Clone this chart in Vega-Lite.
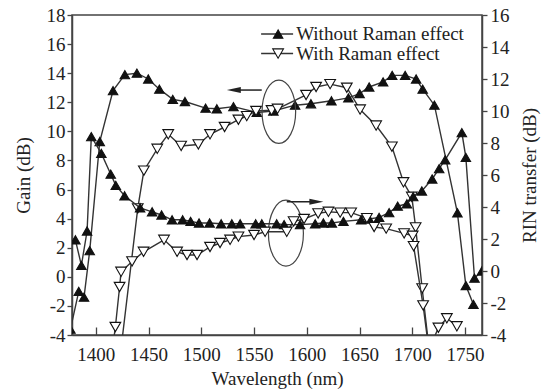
{
  "$schema": "https://vega.github.io/schema/vega-lite/v6.json",
  "width": 410,
  "height": 320,
  "autosize": {"type": "none"},
  "padding": {"left": 72, "top": 15, "right": 61, "bottom": 56},
  "background": "white",
  "config": {
    "font": "Liberation Serif",
    "view": {"stroke": "#444", "strokeWidth": 1.5},
    "axis": {
      "grid": false,
      "domainColor": "#444",
      "domainWidth": 1.5,
      "tickColor": "#444",
      "tickWidth": 1.3,
      "labelFont": "Liberation Serif",
      "labelFontSize": 19,
      "labelColor": "#222",
      "labelFlush": false,
      "labelOverlap": false,
      "titleFont": "Liberation Serif",
      "titleFontSize": 19,
      "titleFontWeight": "normal",
      "titleColor": "#222"
    }
  },
  "datasets": {
    "gain": [
      {"effect": "Without Raman effect", "wl": 1376.0, "gain": -3.6},
      {"effect": "Without Raman effect", "wl": 1383.9, "gain": -1.0},
      {"effect": "Without Raman effect", "wl": 1388.9, "gain": -1.4},
      {"effect": "Without Raman effect", "wl": 1394.3, "gain": 1.8},
      {"effect": "Without Raman effect", "wl": 1403.8, "gain": 9.3},
      {"effect": "Without Raman effect", "wl": 1416.4, "gain": 12.8},
      {"effect": "Without Raman effect", "wl": 1427.6, "gain": 13.9},
      {"effect": "Without Raman effect", "wl": 1439.0, "gain": 14.0},
      {"effect": "Without Raman effect", "wl": 1449.8, "gain": 13.6},
      {"effect": "Without Raman effect", "wl": 1460.3, "gain": 12.9},
      {"effect": "Without Raman effect", "wl": 1473.0, "gain": 12.2},
      {"effect": "Without Raman effect", "wl": 1484.5, "gain": 12.05},
      {"effect": "Without Raman effect", "wl": 1504.1, "gain": 11.6},
      {"effect": "Without Raman effect", "wl": 1514.7, "gain": 11.55},
      {"effect": "Without Raman effect", "wl": 1530.5, "gain": 11.7},
      {"effect": "Without Raman effect", "wl": 1552.6, "gain": 11.3},
      {"effect": "Without Raman effect", "wl": 1568.3, "gain": 11.4},
      {"effect": "Without Raman effect", "wl": 1588.9, "gain": 11.8},
      {"effect": "Without Raman effect", "wl": 1603.9, "gain": 11.9},
      {"effect": "Without Raman effect", "wl": 1623.3, "gain": 12.1},
      {"effect": "Without Raman effect", "wl": 1639.4, "gain": 12.3},
      {"effect": "Without Raman effect", "wl": 1650.0, "gain": 12.6},
      {"effect": "Without Raman effect", "wl": 1659.1, "gain": 13.05},
      {"effect": "Without Raman effect", "wl": 1672.3, "gain": 13.4},
      {"effect": "Without Raman effect", "wl": 1680.9, "gain": 13.85},
      {"effect": "Without Raman effect", "wl": 1693.2, "gain": 13.85},
      {"effect": "Without Raman effect", "wl": 1703.6, "gain": 13.6},
      {"effect": "Without Raman effect", "wl": 1709.8, "gain": 12.9},
      {"effect": "Without Raman effect", "wl": 1720.9, "gain": 11.8},
      {"effect": "Without Raman effect", "wl": 1742.7, "gain": 4.4},
      {"effect": "Without Raman effect", "wl": 1750.7, "gain": -0.6},
      {"effect": "Without Raman effect", "wl": 1757.9, "gain": -1.9},
      {"effect": "With Raman effect", "wl": 1424.5, "gain": -4.6},
      {"effect": "With Raman effect", "wl": 1439.8, "gain": 4.7},
      {"effect": "With Raman effect", "wl": 1445.6, "gain": 7.3},
      {"effect": "With Raman effect", "wl": 1458.3, "gain": 8.8},
      {"effect": "With Raman effect", "wl": 1468.7, "gain": 9.8},
      {"effect": "With Raman effect", "wl": 1480.9, "gain": 9.0},
      {"effect": "With Raman effect", "wl": 1497.2, "gain": 9.1},
      {"effect": "With Raman effect", "wl": 1508.3, "gain": 9.8},
      {"effect": "With Raman effect", "wl": 1522.1, "gain": 10.3},
      {"effect": "With Raman effect", "wl": 1535.2, "gain": 10.8},
      {"effect": "With Raman effect", "wl": 1543.1, "gain": 11.05},
      {"effect": "With Raman effect", "wl": 1551.9, "gain": 11.4},
      {"effect": "With Raman effect", "wl": 1566.6, "gain": 11.45},
      {"effect": "With Raman effect", "wl": 1572.3, "gain": 11.55},
      {"effect": "With Raman effect", "wl": 1599.3, "gain": 12.5},
      {"effect": "With Raman effect", "wl": 1608.8, "gain": 13.05},
      {"effect": "With Raman effect", "wl": 1622.1, "gain": 13.25},
      {"effect": "With Raman effect", "wl": 1637.9, "gain": 13.0},
      {"effect": "With Raman effect", "wl": 1650.5, "gain": 11.5},
      {"effect": "With Raman effect", "wl": 1665.7, "gain": 10.4},
      {"effect": "With Raman effect", "wl": 1680.6, "gain": 8.95},
      {"effect": "With Raman effect", "wl": 1691.6, "gain": 6.5},
      {"effect": "With Raman effect", "wl": 1699.5, "gain": 5.5},
      {"effect": "With Raman effect", "wl": 1703.1, "gain": 3.4},
      {"effect": "With Raman effect", "wl": 1709.3, "gain": -0.8},
      {"effect": "With Raman effect", "wl": 1715.9, "gain": -5.0},
      {"effect": "With Raman effect", "wl": 1724.7, "gain": -3.5},
      {"effect": "With Raman effect", "wl": 1732.7, "gain": -2.85},
      {"effect": "With Raman effect", "wl": 1742.2, "gain": -3.4}
    ],
    "rin": [
      {"effect": "Without Raman effect", "wl": 1380.7, "rin": 1.95},
      {"effect": "Without Raman effect", "wl": 1386.4, "rin": 0.35},
      {"effect": "Without Raman effect", "wl": 1391.8, "rin": 2.5},
      {"effect": "Without Raman effect", "wl": 1395.8, "rin": 8.4},
      {"effect": "Without Raman effect", "wl": 1405.3, "rin": 7.35},
      {"effect": "Without Raman effect", "wl": 1414.2, "rin": 6.05},
      {"effect": "Without Raman effect", "wl": 1419.0, "rin": 5.35},
      {"effect": "Without Raman effect", "wl": 1427.3, "rin": 4.7},
      {"effect": "Without Raman effect", "wl": 1442.0, "rin": 3.95},
      {"effect": "Without Raman effect", "wl": 1453.4, "rin": 3.7},
      {"effect": "Without Raman effect", "wl": 1462.4, "rin": 3.5},
      {"effect": "Without Raman effect", "wl": 1472.3, "rin": 3.2},
      {"effect": "Without Raman effect", "wl": 1482.3, "rin": 3.2},
      {"effect": "Without Raman effect", "wl": 1489.9, "rin": 3.1},
      {"effect": "Without Raman effect", "wl": 1497.9, "rin": 3.0},
      {"effect": "Without Raman effect", "wl": 1507.9, "rin": 3.0},
      {"effect": "Without Raman effect", "wl": 1518.8, "rin": 2.95},
      {"effect": "Without Raman effect", "wl": 1528.9, "rin": 2.95},
      {"effect": "Without Raman effect", "wl": 1536.8, "rin": 2.95},
      {"effect": "Without Raman effect", "wl": 1551.5, "rin": 2.95},
      {"effect": "Without Raman effect", "wl": 1557.3, "rin": 2.95},
      {"effect": "Without Raman effect", "wl": 1571.4, "rin": 2.95},
      {"effect": "Without Raman effect", "wl": 1578.5, "rin": 2.9},
      {"effect": "Without Raman effect", "wl": 1593.6, "rin": 2.9},
      {"effect": "Without Raman effect", "wl": 1607.9, "rin": 2.95},
      {"effect": "Without Raman effect", "wl": 1615.7, "rin": 3.0},
      {"effect": "Without Raman effect", "wl": 1623.7, "rin": 3.0},
      {"effect": "Without Raman effect", "wl": 1634.7, "rin": 3.1},
      {"effect": "Without Raman effect", "wl": 1651.5, "rin": 3.2},
      {"effect": "Without Raman effect", "wl": 1659.1, "rin": 3.25},
      {"effect": "Without Raman effect", "wl": 1668.5, "rin": 3.35},
      {"effect": "Without Raman effect", "wl": 1678.0, "rin": 3.65},
      {"effect": "Without Raman effect", "wl": 1686.1, "rin": 4.05},
      {"effect": "Without Raman effect", "wl": 1694.8, "rin": 4.2},
      {"effect": "Without Raman effect", "wl": 1700.8, "rin": 4.65},
      {"effect": "Without Raman effect", "wl": 1709.0, "rin": 5.0},
      {"effect": "Without Raman effect", "wl": 1718.8, "rin": 5.75},
      {"effect": "Without Raman effect", "wl": 1725.4, "rin": 6.4},
      {"effect": "Without Raman effect", "wl": 1731.1, "rin": 6.95},
      {"effect": "Without Raman effect", "wl": 1746.9, "rin": 8.65},
      {"effect": "Without Raman effect", "wl": 1750.7, "rin": 7.1},
      {"effect": "Without Raman effect", "wl": 1758.9, "rin": -0.45},
      {"effect": "Without Raman effect", "wl": 1765.9, "rin": 0.0},
      {"effect": "With Raman effect", "wl": 1416.4, "rin": -4.6},
      {"effect": "With Raman effect", "wl": 1418.6, "rin": -3.5},
      {"effect": "With Raman effect", "wl": 1422.6, "rin": -1.0},
      {"effect": "With Raman effect", "wl": 1424.0, "rin": -0.05},
      {"effect": "With Raman effect", "wl": 1434.4, "rin": 0.6},
      {"effect": "With Raman effect", "wl": 1445.3, "rin": 1.2},
      {"effect": "With Raman effect", "wl": 1464.7, "rin": 1.95},
      {"effect": "With Raman effect", "wl": 1477.1, "rin": 1.2},
      {"effect": "With Raman effect", "wl": 1486.5, "rin": 1.0},
      {"effect": "With Raman effect", "wl": 1496.0, "rin": 1.0},
      {"effect": "With Raman effect", "wl": 1508.3, "rin": 1.5},
      {"effect": "With Raman effect", "wl": 1517.8, "rin": 1.75},
      {"effect": "With Raman effect", "wl": 1527.3, "rin": 1.95},
      {"effect": "With Raman effect", "wl": 1535.2, "rin": 2.15},
      {"effect": "With Raman effect", "wl": 1550.0, "rin": 2.25},
      {"effect": "With Raman effect", "wl": 1560.5, "rin": 2.45},
      {"effect": "With Raman effect", "wl": 1581.0, "rin": 2.45},
      {"effect": "With Raman effect", "wl": 1587.5, "rin": 3.1},
      {"effect": "With Raman effect", "wl": 1597.4, "rin": 3.25},
      {"effect": "With Raman effect", "wl": 1610.7, "rin": 3.6},
      {"effect": "With Raman effect", "wl": 1620.5, "rin": 3.7},
      {"effect": "With Raman effect", "wl": 1631.6, "rin": 3.65},
      {"effect": "With Raman effect", "wl": 1642.0, "rin": 3.65},
      {"effect": "With Raman effect", "wl": 1656.9, "rin": 3.3},
      {"effect": "With Raman effect", "wl": 1663.8, "rin": 2.75},
      {"effect": "With Raman effect", "wl": 1675.2, "rin": 2.65},
      {"effect": "With Raman effect", "wl": 1692.2, "rin": 2.35},
      {"effect": "With Raman effect", "wl": 1700.3, "rin": 2.2},
      {"effect": "With Raman effect", "wl": 1701.2, "rin": 1.55},
      {"effect": "With Raman effect", "wl": 1710.2, "rin": -2.15},
      {"effect": "With Raman effect", "wl": 1715.0, "rin": -4.6}
    ],
    "one": [{}]
  },
  "layer": [
    {
      "layer": [
        {
          "data": {"name": "gain"},
          "mark": {"type": "line", "clip": true, "color": "#333", "strokeWidth": 1.4},
          "encoding": {
            "x": {"field": "wl", "type": "quantitative", "scale": {"domain": [1377.5, 1766], "nice": false, "zero": false},
              "axis": {"values": [1400, 1450, 1500, 1550, 1600, 1650, 1700, 1750], "format": "d", "labelOverlap": false, "tickSize": -8, "labelPadding": 33, "labelBaseline": "alphabetic", "title": "Wavelength (nm)", "titleX": 205, "titleY": 49, "titleAlign": "center", "titleBaseline": "alphabetic"}},
            "y": {"field": "gain", "type": "quantitative", "scale": {"domain": [-4, 18], "nice": false, "zero": false},
              "axis": {"values": [-4, -2, 0, 2, 4, 6, 8, 10, 12, 14, 16, 18], "labelOverlap": false, "tickSize": 5, "labelPadding": 2, "labelExpr": "datum.value < 0 ? '-' + abs(datum.value) : datum.label", "title": "Gain (dB)", "titleAngle": -90, "titleX": -43, "titleY": 160, "titleAlign": "center", "titleBaseline": "alphabetic"}},
            "detail": {"field": "effect"}
          }
        },
        {
          "data": {"name": "gain"},
          "mark": {"type": "point", "clip": true, "filled": true, "stroke": "#111", "strokeWidth": 1.1, "opacity": 1},
          "encoding": {
            "x": {"field": "wl", "type": "quantitative",
              "axis": {"values": [1400, 1450, 1500, 1550, 1600, 1650, 1700, 1750], "format": "d", "labelOverlap": false, "tickSize": -8, "labelPadding": 33, "labelBaseline": "alphabetic", "title": "Wavelength (nm)", "titleX": 205, "titleY": 49, "titleAlign": "center", "titleBaseline": "alphabetic"}},
            "y": {"field": "gain", "type": "quantitative",
              "axis": {"values": [-4, -2, 0, 2, 4, 6, 8, 10, 12, 14, 16, 18], "labelOverlap": false, "tickSize": 5, "labelPadding": 2, "labelExpr": "datum.value < 0 ? '-' + abs(datum.value) : datum.label", "title": "Gain (dB)", "titleAngle": -90, "titleX": -43, "titleY": 160, "titleAlign": "center", "titleBaseline": "alphabetic"}},
            "shape": {"field": "effect", "type": "nominal", "scale": {"domain": ["Without Raman effect", "With Raman effect"], "range": ["triangle-up", "triangle-down"]}, "legend": null},
            "fill": {"field": "effect", "type": "nominal", "scale": {"domain": ["Without Raman effect", "With Raman effect"], "range": ["#111", "#ffffff"]}, "legend": null},
            "size": {"field": "effect", "type": "nominal", "scale": {"domain": ["Without Raman effect", "With Raman effect"], "range": [90, 115]}, "legend": null}
          }
        },
        {
          "data": {"name": "one"},
          "mark": {"type": "point", "shape": "M 0 -1 C 0.293 -1 0.53 -0.552 0.53 0 C 0.53 0.552 0.293 1 0 1 C -0.293 1 -0.53 0.552 -0.53 0 C -0.53 -0.552 -0.293 -1 0 -1 Z", "size": 4020, "filled": false, "stroke": "#444", "strokeWidth": 1.2, "opacity": 1},
          "encoding": {
            "x": {"datum": 1573.5, "type": "quantitative",
              "axis": {"values": [1400, 1450, 1500, 1550, 1600, 1650, 1700, 1750], "format": "d", "labelOverlap": false, "tickSize": -8, "labelPadding": 33, "labelBaseline": "alphabetic", "title": "Wavelength (nm)", "titleX": 205, "titleY": 49, "titleAlign": "center", "titleBaseline": "alphabetic"}},
            "y": {"datum": 11.35, "type": "quantitative",
              "axis": {"values": [-4, -2, 0, 2, 4, 6, 8, 10, 12, 14, 16, 18], "labelOverlap": false, "tickSize": 5, "labelPadding": 2, "labelExpr": "datum.value < 0 ? '-' + abs(datum.value) : datum.label", "title": "Gain (dB)", "titleAngle": -90, "titleX": -43, "titleY": 160, "titleAlign": "center", "titleBaseline": "alphabetic"}}
          }
        },
        {
          "data": {"name": "one"},
          "mark": {"type": "point", "shape": "M 0 -1 C 0.293 -1 0.53 -0.552 0.53 0 C 0.53 0.552 0.293 1 0 1 C -0.293 1 -0.53 0.552 -0.53 0 C -0.53 -0.552 -0.293 -1 0 -1 Z", "size": 4356, "filled": false, "stroke": "#444", "strokeWidth": 1.2, "opacity": 1},
          "encoding": {
            "x": {"datum": 1580.2, "type": "quantitative",
              "axis": {"values": [1400, 1450, 1500, 1550, 1600, 1650, 1700, 1750], "format": "d", "labelOverlap": false, "tickSize": -8, "labelPadding": 33, "labelBaseline": "alphabetic", "title": "Wavelength (nm)", "titleX": 205, "titleY": 49, "titleAlign": "center", "titleBaseline": "alphabetic"}},
            "y": {"datum": 3.0, "type": "quantitative",
              "axis": {"values": [-4, -2, 0, 2, 4, 6, 8, 10, 12, 14, 16, 18], "labelOverlap": false, "tickSize": 5, "labelPadding": 2, "labelExpr": "datum.value < 0 ? '-' + abs(datum.value) : datum.label", "title": "Gain (dB)", "titleAngle": -90, "titleX": -43, "titleY": 160, "titleAlign": "center", "titleBaseline": "alphabetic"}}
          }
        },
        {
          "data": {"name": "one"},
          "mark": {"type": "rule", "stroke": "#222", "strokeWidth": 1.5},
          "encoding": {
            "x": {"datum": 1530, "type": "quantitative",
              "axis": {"values": [1400, 1450, 1500, 1550, 1600, 1650, 1700, 1750], "format": "d", "labelOverlap": false, "tickSize": -8, "labelPadding": 33, "labelBaseline": "alphabetic", "title": "Wavelength (nm)", "titleX": 205, "titleY": 49, "titleAlign": "center", "titleBaseline": "alphabetic"}},
            "x2": {"datum": 1557.3},
            "y": {"datum": 12.84, "type": "quantitative",
              "axis": {"values": [-4, -2, 0, 2, 4, 6, 8, 10, 12, 14, 16, 18], "labelOverlap": false, "tickSize": 5, "labelPadding": 2, "labelExpr": "datum.value < 0 ? '-' + abs(datum.value) : datum.label", "title": "Gain (dB)", "titleAngle": -90, "titleX": -43, "titleY": 160, "titleAlign": "center", "titleBaseline": "alphabetic"}}
          }
        },
        {
          "data": {"name": "one"},
          "mark": {"type": "point", "shape": "M 0 0 L 2 -0.42 L 2 0.42 Z", "size": 196, "filled": true, "color": "#222", "opacity": 1},
          "encoding": {
            "x": {"datum": 1524.2, "type": "quantitative",
              "axis": {"values": [1400, 1450, 1500, 1550, 1600, 1650, 1700, 1750], "format": "d", "labelOverlap": false, "tickSize": -8, "labelPadding": 33, "labelBaseline": "alphabetic", "title": "Wavelength (nm)", "titleX": 205, "titleY": 49, "titleAlign": "center", "titleBaseline": "alphabetic"}},
            "y": {"datum": 12.84, "type": "quantitative",
              "axis": {"values": [-4, -2, 0, 2, 4, 6, 8, 10, 12, 14, 16, 18], "labelOverlap": false, "tickSize": 5, "labelPadding": 2, "labelExpr": "datum.value < 0 ? '-' + abs(datum.value) : datum.label", "title": "Gain (dB)", "titleAngle": -90, "titleX": -43, "titleY": 160, "titleAlign": "center", "titleBaseline": "alphabetic"}}
          }
        },
        {
          "data": {"name": "one"},
          "mark": {"type": "rule", "stroke": "#222", "strokeWidth": 1.5},
          "encoding": {
            "x": {"datum": 1581.0, "type": "quantitative",
              "axis": {"values": [1400, 1450, 1500, 1550, 1600, 1650, 1700, 1750], "format": "d", "labelOverlap": false, "tickSize": -8, "labelPadding": 33, "labelBaseline": "alphabetic", "title": "Wavelength (nm)", "titleX": 205, "titleY": 49, "titleAlign": "center", "titleBaseline": "alphabetic"}},
            "x2": {"datum": 1610},
            "y": {"datum": 5.16, "type": "quantitative",
              "axis": {"values": [-4, -2, 0, 2, 4, 6, 8, 10, 12, 14, 16, 18], "labelOverlap": false, "tickSize": 5, "labelPadding": 2, "labelExpr": "datum.value < 0 ? '-' + abs(datum.value) : datum.label", "title": "Gain (dB)", "titleAngle": -90, "titleX": -43, "titleY": 160, "titleAlign": "center", "titleBaseline": "alphabetic"}}
          }
        },
        {
          "data": {"name": "one"},
          "mark": {"type": "point", "shape": "M 0 0 L -2 -0.42 L -2 0.42 Z", "size": 196, "filled": true, "color": "#222", "opacity": 1},
          "encoding": {
            "x": {"datum": 1615.7, "type": "quantitative",
              "axis": {"values": [1400, 1450, 1500, 1550, 1600, 1650, 1700, 1750], "format": "d", "labelOverlap": false, "tickSize": -8, "labelPadding": 33, "labelBaseline": "alphabetic", "title": "Wavelength (nm)", "titleX": 205, "titleY": 49, "titleAlign": "center", "titleBaseline": "alphabetic"}},
            "y": {"datum": 5.16, "type": "quantitative",
              "axis": {"values": [-4, -2, 0, 2, 4, 6, 8, 10, 12, 14, 16, 18], "labelOverlap": false, "tickSize": 5, "labelPadding": 2, "labelExpr": "datum.value < 0 ? '-' + abs(datum.value) : datum.label", "title": "Gain (dB)", "titleAngle": -90, "titleX": -43, "titleY": 160, "titleAlign": "center", "titleBaseline": "alphabetic"}}
          }
        },
        {
          "data": {"name": "one"},
          "mark": {"type": "rule", "stroke": "#333", "strokeWidth": 1.4},
          "encoding": {
            "x": {"datum": 1556.7, "type": "quantitative",
              "axis": {"values": [1400, 1450, 1500, 1550, 1600, 1650, 1700, 1750], "format": "d", "labelOverlap": false, "tickSize": -8, "labelPadding": 33, "labelBaseline": "alphabetic", "title": "Wavelength (nm)", "titleX": 205, "titleY": 49, "titleAlign": "center", "titleBaseline": "alphabetic"}},
            "x2": {"datum": 1587.0},
            "y": {"datum": 16.69, "type": "quantitative",
              "axis": {"values": [-4, -2, 0, 2, 4, 6, 8, 10, 12, 14, 16, 18], "labelOverlap": false, "tickSize": 5, "labelPadding": 2, "labelExpr": "datum.value < 0 ? '-' + abs(datum.value) : datum.label", "title": "Gain (dB)", "titleAngle": -90, "titleX": -43, "titleY": 160, "titleAlign": "center", "titleBaseline": "alphabetic"}}
          }
        },
        {
          "data": {"name": "one"},
          "mark": {"type": "rule", "stroke": "#333", "strokeWidth": 1.4},
          "encoding": {
            "x": {"datum": 1556.7, "type": "quantitative",
              "axis": {"values": [1400, 1450, 1500, 1550, 1600, 1650, 1700, 1750], "format": "d", "labelOverlap": false, "tickSize": -8, "labelPadding": 33, "labelBaseline": "alphabetic", "title": "Wavelength (nm)", "titleX": 205, "titleY": 49, "titleAlign": "center", "titleBaseline": "alphabetic"}},
            "x2": {"datum": 1587.0},
            "y": {"datum": 15.35, "type": "quantitative",
              "axis": {"values": [-4, -2, 0, 2, 4, 6, 8, 10, 12, 14, 16, 18], "labelOverlap": false, "tickSize": 5, "labelPadding": 2, "labelExpr": "datum.value < 0 ? '-' + abs(datum.value) : datum.label", "title": "Gain (dB)", "titleAngle": -90, "titleX": -43, "titleY": 160, "titleAlign": "center", "titleBaseline": "alphabetic"}}
          }
        },
        {
          "data": {"name": "one"},
          "mark": {"type": "point", "shape": "triangle-up", "size": 90, "filled": true, "fill": "#111", "stroke": "#111", "strokeWidth": 1.1, "opacity": 1},
          "encoding": {
            "x": {"datum": 1572.8, "type": "quantitative",
              "axis": {"values": [1400, 1450, 1500, 1550, 1600, 1650, 1700, 1750], "format": "d", "labelOverlap": false, "tickSize": -8, "labelPadding": 33, "labelBaseline": "alphabetic", "title": "Wavelength (nm)", "titleX": 205, "titleY": 49, "titleAlign": "center", "titleBaseline": "alphabetic"}},
            "y": {"datum": 16.69, "type": "quantitative",
              "axis": {"values": [-4, -2, 0, 2, 4, 6, 8, 10, 12, 14, 16, 18], "labelOverlap": false, "tickSize": 5, "labelPadding": 2, "labelExpr": "datum.value < 0 ? '-' + abs(datum.value) : datum.label", "title": "Gain (dB)", "titleAngle": -90, "titleX": -43, "titleY": 160, "titleAlign": "center", "titleBaseline": "alphabetic"}}
          }
        },
        {
          "data": {"name": "one"},
          "mark": {"type": "point", "shape": "triangle-down", "size": 115, "filled": true, "fill": "#ffffff", "stroke": "#111", "strokeWidth": 1.1, "opacity": 1},
          "encoding": {
            "x": {"datum": 1572.8, "type": "quantitative",
              "axis": {"values": [1400, 1450, 1500, 1550, 1600, 1650, 1700, 1750], "format": "d", "labelOverlap": false, "tickSize": -8, "labelPadding": 33, "labelBaseline": "alphabetic", "title": "Wavelength (nm)", "titleX": 205, "titleY": 49, "titleAlign": "center", "titleBaseline": "alphabetic"}},
            "y": {"datum": 15.35, "type": "quantitative",
              "axis": {"values": [-4, -2, 0, 2, 4, 6, 8, 10, 12, 14, 16, 18], "labelOverlap": false, "tickSize": 5, "labelPadding": 2, "labelExpr": "datum.value < 0 ? '-' + abs(datum.value) : datum.label", "title": "Gain (dB)", "titleAngle": -90, "titleX": -43, "titleY": 160, "titleAlign": "center", "titleBaseline": "alphabetic"}}
          }
        },
        {
          "data": {"name": "one"},
          "mark": {"type": "text", "align": "left", "baseline": "middle", "font": "Liberation Serif", "fontSize": 19, "color": "#222", "text": "Without Raman effect"},
          "encoding": {
            "x": {"datum": 1589.9, "type": "quantitative",
              "axis": {"values": [1400, 1450, 1500, 1550, 1600, 1650, 1700, 1750], "format": "d", "labelOverlap": false, "tickSize": -8, "labelPadding": 33, "labelBaseline": "alphabetic", "title": "Wavelength (nm)", "titleX": 205, "titleY": 49, "titleAlign": "center", "titleBaseline": "alphabetic"}},
            "y": {"datum": 16.69, "type": "quantitative",
              "axis": {"values": [-4, -2, 0, 2, 4, 6, 8, 10, 12, 14, 16, 18], "labelOverlap": false, "tickSize": 5, "labelPadding": 2, "labelExpr": "datum.value < 0 ? '-' + abs(datum.value) : datum.label", "title": "Gain (dB)", "titleAngle": -90, "titleX": -43, "titleY": 160, "titleAlign": "center", "titleBaseline": "alphabetic"}}
          }
        },
        {
          "data": {"name": "one"},
          "mark": {"type": "text", "align": "left", "baseline": "middle", "font": "Liberation Serif", "fontSize": 19, "color": "#222", "text": "With Raman effect"},
          "encoding": {
            "x": {"datum": 1589.9, "type": "quantitative",
              "axis": {"values": [1400, 1450, 1500, 1550, 1600, 1650, 1700, 1750], "format": "d", "labelOverlap": false, "tickSize": -8, "labelPadding": 33, "labelBaseline": "alphabetic", "title": "Wavelength (nm)", "titleX": 205, "titleY": 49, "titleAlign": "center", "titleBaseline": "alphabetic"}},
            "y": {"datum": 15.35, "type": "quantitative",
              "axis": {"values": [-4, -2, 0, 2, 4, 6, 8, 10, 12, 14, 16, 18], "labelOverlap": false, "tickSize": 5, "labelPadding": 2, "labelExpr": "datum.value < 0 ? '-' + abs(datum.value) : datum.label", "title": "Gain (dB)", "titleAngle": -90, "titleX": -43, "titleY": 160, "titleAlign": "center", "titleBaseline": "alphabetic"}}
          }
        }
      ]
    },
    {
      "layer": [
        {
          "data": {"name": "rin"},
          "mark": {"type": "line", "clip": true, "color": "#333", "strokeWidth": 1.4},
          "encoding": {
            "x": {"field": "wl", "type": "quantitative",
              "axis": {"values": [1400, 1450, 1500, 1550, 1600, 1650, 1700, 1750], "format": "d", "labelOverlap": false, "tickSize": -8, "labelPadding": 33, "labelBaseline": "alphabetic", "title": "Wavelength (nm)", "titleX": 205, "titleY": 49, "titleAlign": "center", "titleBaseline": "alphabetic"}},
            "y": {"field": "rin", "type": "quantitative", "scale": {"domain": [-4, 16], "nice": false, "zero": false},
              "axis": {"orient": "right", "values": [-4, -2, 0, 2, 4, 6, 8, 10, 12, 14, 16], "labelOverlap": false, "tickSize": 5, "labelPadding": 3, "labelExpr": "datum.value < 0 ? '-' + abs(datum.value) : datum.label", "title": "RIN transfer (dB)", "titleAngle": -90, "titleX": 53, "titleY": 160, "titleAlign": "center", "titleBaseline": "alphabetic"}},
            "detail": {"field": "effect"}
          }
        },
        {
          "data": {"name": "rin"},
          "mark": {"type": "point", "clip": true, "filled": true, "stroke": "#111", "strokeWidth": 1.1, "opacity": 1},
          "encoding": {
            "x": {"field": "wl", "type": "quantitative",
              "axis": {"values": [1400, 1450, 1500, 1550, 1600, 1650, 1700, 1750], "format": "d", "labelOverlap": false, "tickSize": -8, "labelPadding": 33, "labelBaseline": "alphabetic", "title": "Wavelength (nm)", "titleX": 205, "titleY": 49, "titleAlign": "center", "titleBaseline": "alphabetic"}},
            "y": {"field": "rin", "type": "quantitative",
              "axis": {"orient": "right", "values": [-4, -2, 0, 2, 4, 6, 8, 10, 12, 14, 16], "labelOverlap": false, "tickSize": 5, "labelPadding": 3, "labelExpr": "datum.value < 0 ? '-' + abs(datum.value) : datum.label", "title": "RIN transfer (dB)", "titleAngle": -90, "titleX": 53, "titleY": 160, "titleAlign": "center", "titleBaseline": "alphabetic"}},
            "shape": {"field": "effect", "type": "nominal", "scale": {"domain": ["Without Raman effect", "With Raman effect"], "range": ["triangle-up", "triangle-down"]}, "legend": null},
            "fill": {"field": "effect", "type": "nominal", "scale": {"domain": ["Without Raman effect", "With Raman effect"], "range": ["#111", "#ffffff"]}, "legend": null},
            "size": {"field": "effect", "type": "nominal", "scale": {"domain": ["Without Raman effect", "With Raman effect"], "range": [90, 115]}, "legend": null}
          }
        }
      ]
    }
  ],
  "resolve": {"scale": {"y": "independent"}}
}
